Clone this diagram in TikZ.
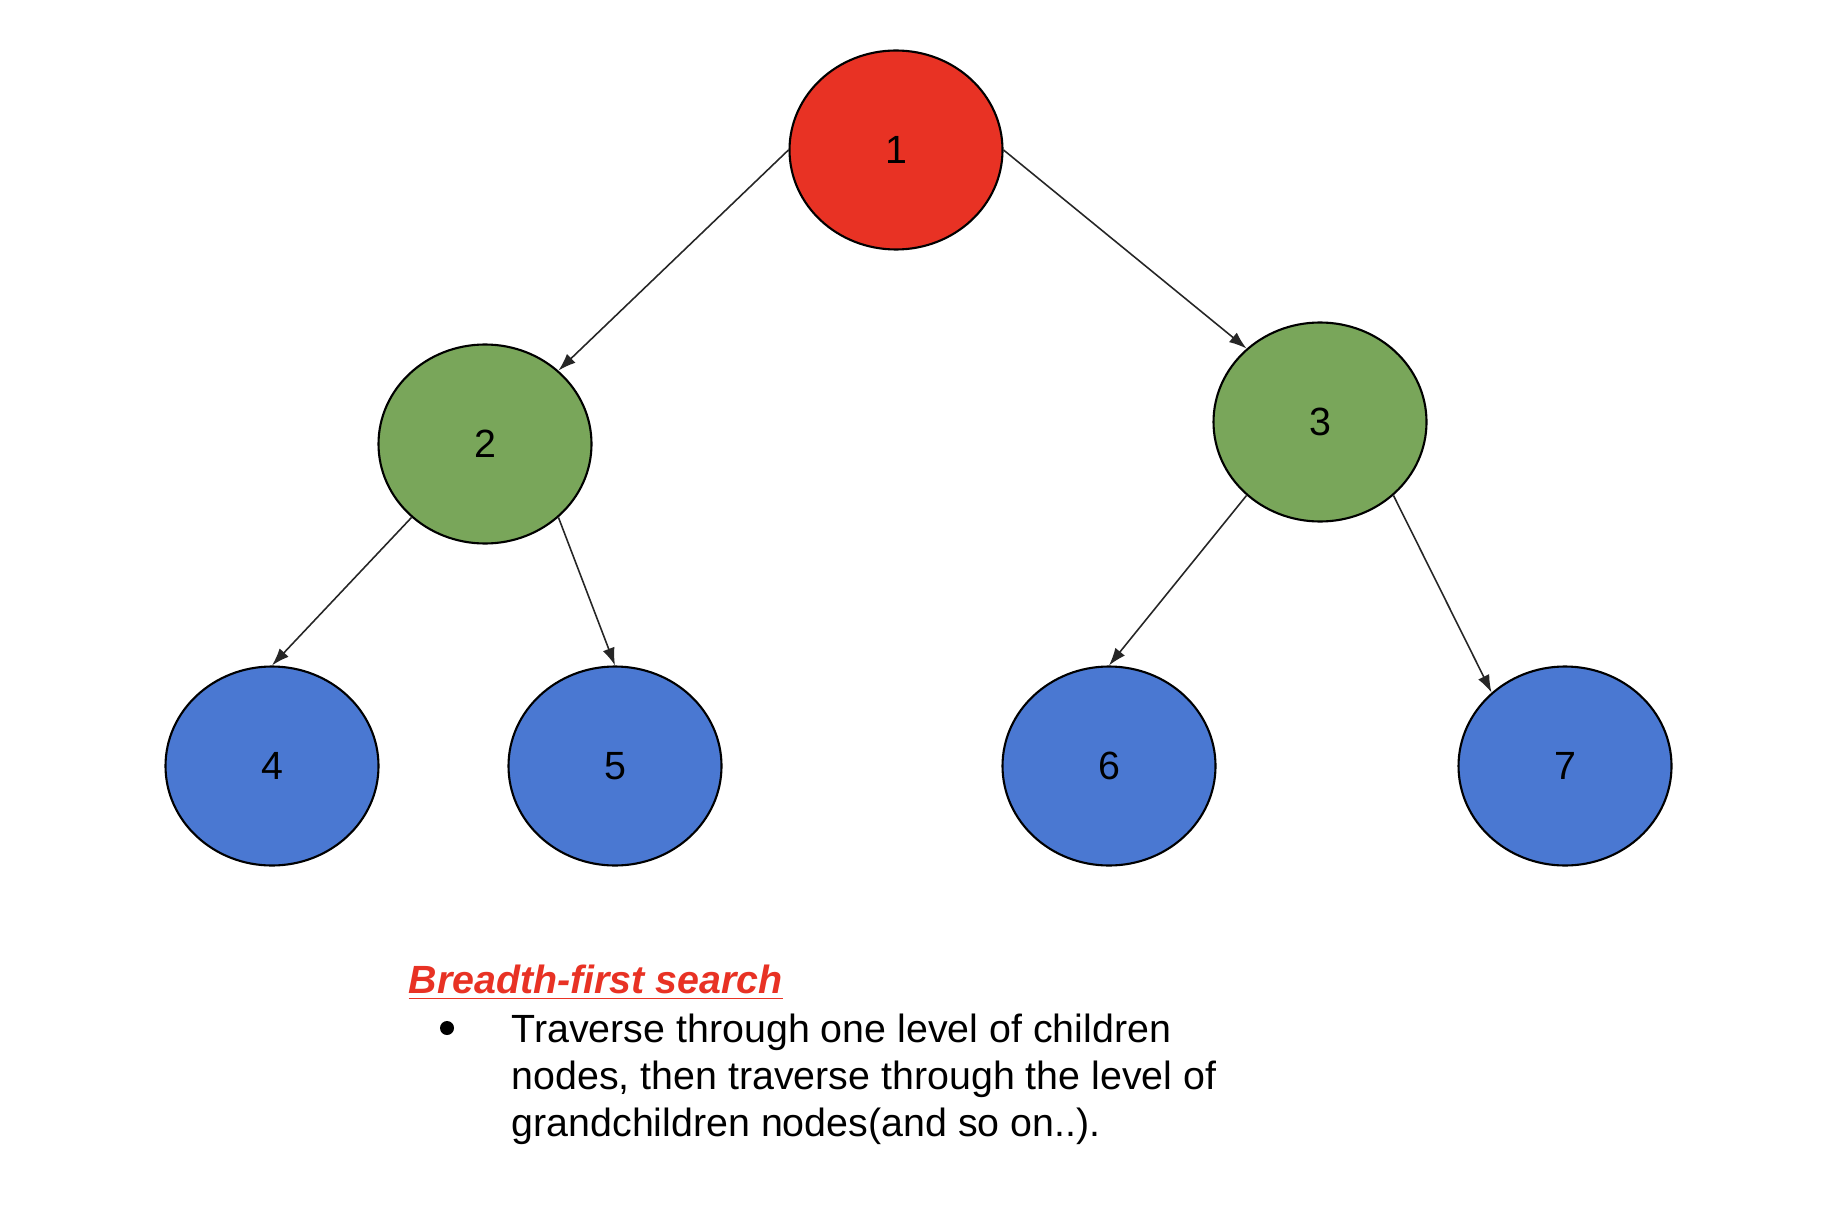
\documentclass[tikz,border=0pt]{standalone}
\usepackage{fontspec}
\setmainfont{Liberation Sans}
\usetikzlibrary{shapes.geometric,arrows.meta}
\definecolor{rootred}{RGB}{232,50,36}
\definecolor{leafgreen}{RGB}{121,166,90}
\definecolor{leafblue}{RGB}{74,120,210}
\begin{document}
\begin{tikzpicture}[
    vertex/.style={
        ellipse,
        minimum width=2.13cm,
        minimum height=1.99cm,
        inner sep=0pt,
        draw=black,
        line width=0.6pt,
        font=\fontsize{11.2}{13.4}\selectfont
    },
    edge/.style={
        -{Latex[length=5pt,width=3.5pt]},
        line width=0.45pt,
        draw=black!85
    }
]
\useasboundingbox (0,0) rectangle (18.34,-12.10);

\node[vertex, fill=rootred] (n1) at (8.96,-1.50) {1};
\node[vertex, fill=leafgreen] (n2) at (4.85,-4.44) {2};
\node[vertex, fill=leafgreen] (n3) at (13.20,-4.22) {3};
\node[vertex, fill=leafblue] (n4) at (2.72,-7.66) {4};
\node[vertex, fill=leafblue] (n5) at (6.15,-7.66) {5};
\node[vertex, fill=leafblue] (n6) at (11.09,-7.66) {6};
\node[vertex, fill=leafblue] (n7) at (15.65,-7.66) {7};

\draw[edge] (n1.west) -- (n2.45);
\draw[edge] (n1.east) -- (n3.135);
\draw[edge] (n2.225) -- (n4.north);
\draw[edge] (n2.315) -- (n5.north);
\draw[edge] (n3.225) -- (n6.north);
\draw[edge] (n3.315) -- (n7.135);

% caption below the tree
\node[anchor=base west, inner sep=0pt, text=rootred, font=\fontsize{11.2}{13.4}\selectfont\bfseries\itshape] (title) at (4.08,-9.93) {\underline{Breadth-first search}};
\node[circle, fill=black, inner sep=0pt, minimum size=1.4mm] (bullet) at (4.47,-10.28) {};
\node[anchor=north west, inner sep=0pt, align=left, font=\fontsize{11.2}{13.4}\selectfont] (desc) at (5.11,-10.13) {Traverse through one level of children\\nodes, then traverse through the level of\\grandchildren nodes(and so on..).};

\end{tikzpicture}
\end{document}
